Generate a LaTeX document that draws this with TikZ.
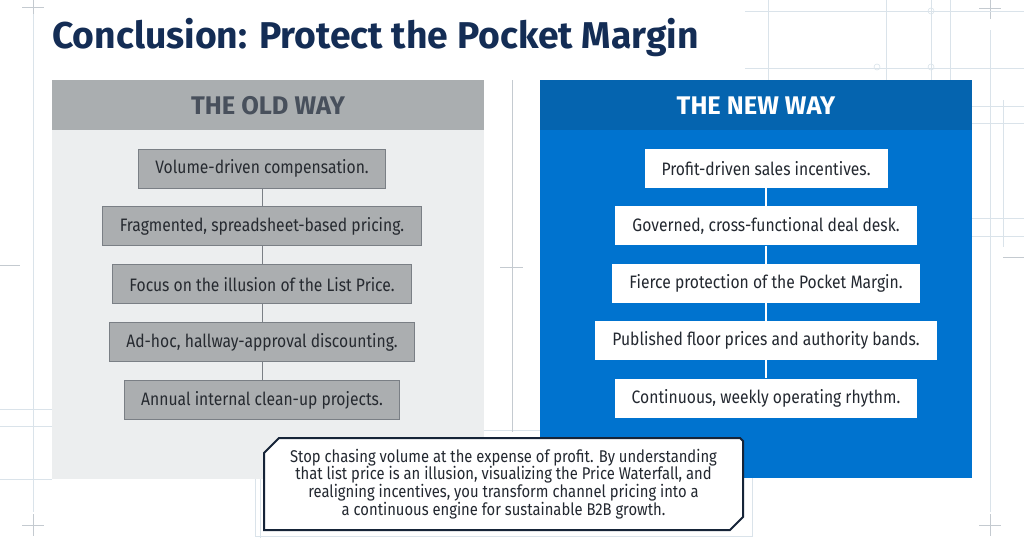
\documentclass[tikz,border=0pt]{standalone}
\usepackage{fontspec}
\setmainfont{Fira Sans}
\newfontfamily\narrowfont{Fira Sans}[FakeStretch=0.87]
\usetikzlibrary{positioning,calc}
\definecolor{TitleNavy}{RGB}{20,45,85}
\definecolor{OldHead}{RGB}{170,174,176}
\definecolor{OldBody}{RGB}{236,238,239}
\definecolor{OldBox}{RGB}{171,174,176}
\definecolor{OldBorder}{RGB}{122,127,133}
\definecolor{OldHeadText}{RGB}{72,80,92}
\definecolor{OldText}{RGB}{38,42,48}
\definecolor{NewHead}{RGB}{5,100,175}
\definecolor{NewBody}{RGB}{0,115,207}
\definecolor{NewText}{RGB}{35,40,48}
\definecolor{CalloutBorder}{RGB}{22,36,56}
\definecolor{GridLine}{RGB}{218,227,234}
\definecolor{Divider}{RGB}{196,202,208}

\begin{document}
\begin{tikzpicture}[
  x=1pt, y=-1pt,
  font=\narrowfont\fontsize{18}{21}\selectfont,
  headtext/.style={font=\bfseries\fontsize{25.5}{30}\selectfont},
  oldstep/.style={
    rectangle, draw=OldBorder, line width=0.9pt, fill=OldBox, text=OldText,
    minimum height=39pt, inner xsep=17pt, inner ysep=0pt
  },
  newstep/.style={
    rectangle, fill=white, text=NewText,
    minimum height=39pt, inner xsep=17pt, inner ysep=0pt
  },
  oldlink/.style={draw=OldBorder, line width=1pt},
  newlink/.style={draw=white, line width=1.2pt},
  blueprint/.style={draw=GridLine, line width=0.6pt}
]
\useasboundingbox (0,0) rectangle (1024,538);
\fill[white] (0,0) rectangle (1024,538);

% Faint blueprint lines in the background
\draw[blueprint] (33,14) -- (33,512);
\draw[blueprint, draw=Divider] (22,7) -- (44,7) (33,0) -- (33,14);
\draw[blueprint, draw=Divider] (22,525) -- (44,525) (33,514) -- (33,536);
\draw[blueprint, draw=Divider] (0,265) -- (20,265);
\draw[blueprint] (990,30) -- (990,512);
\draw[blueprint, draw=Divider] (979,8) -- (1001,8) (990,0) -- (990,19);
\draw[blueprint, draw=Divider] (979,525) -- (1001,525) (990,514) -- (990,536);
\draw[blueprint] (745,11) -- (1024,11) (745,68) -- (1024,68);
\draw[blueprint] (768,0) -- (768,80) (886,0) -- (886,80) (931,0) -- (931,80) (950,0) -- (950,80);
\draw[blueprint] (877,67) circle (3) (931,11) circle (3) (931,67) circle (3);
\draw[blueprint] (972,106) -- (1024,106) (972,123) -- (1024,123);
\draw[blueprint] (972,218) -- (1024,218) (972,236) -- (1024,236);
\draw[blueprint] (1003,100) -- (1003,247);
\draw[blueprint, draw=Divider] (1003,257) -- (1024,257);
\draw[blueprint] (0,409) -- (52,409) (0,426) -- (52,426) (0,479) -- (52,479);
\draw[blueprint] (255,430) rectangle (752,536);
\draw[blueprint] (260,434) -- (260,538) (250,434) -- (275,434);

% Central divider
\draw[draw=Divider, line width=0.8pt] (512,80) -- (512,432);
\draw[draw=Divider, line width=0.8pt] (500,267) -- (523,267);

% The old way
\fill[OldBody] (52,80) rectangle (484,479);
\fill[OldHead] (52,80) rectangle (484,130);
\node[headtext, text=OldHeadText] (oldHead) at (268,106) {THE OLD WAY};

\node[oldstep] (old1) at (262,168.5) {Volume-driven compensation.};
\node[oldstep, below=18pt of old1] (old2) {Fragmented, spreadsheet-based pricing.};
\node[oldstep, below=18pt of old2] (old3) {Focus on the illusion of the List Price.};
\node[oldstep, below=18pt of old3] (old4) {Ad-hoc, hallway-approval discounting.};
\node[oldstep, below=18pt of old4] (old5) {Annual internal clean-up projects.};

\draw[oldlink] (old1) -- (old2);
\draw[oldlink] (old2) -- (old3);
\draw[oldlink] (old3) -- (old4);
\draw[oldlink] (old4) -- (old5);

% The new way
\fill[NewBody] (540,80) rectangle (972,478);
\fill[NewHead] (540,80) rectangle (972,130);
\node[headtext, text=white] (newHead) at (756,106) {THE NEW WAY};

\node[newstep] (new1) at (766,168.5) {Profit-driven sales incentives.};
\node[newstep, below=18pt of new1] (new2) {Governed, cross-functional deal desk.};
\node[newstep, below=18pt of new2] (new3) {Fierce protection of the Pocket Margin.};
\node[newstep, below=18pt of new3] (new4) {Published floor prices and authority bands.};
\node[newstep, below=18pt of new4] (new5) {Continuous, weekly operating rhythm.};

\draw[newlink] (new1) -- (new2);
\draw[newlink] (new2) -- (new3);
\draw[newlink] (new3) -- (new4);
\draw[newlink] (new4) -- (new5);

% Title
\node[anchor=base west, text=TitleNavy, font=\bfseries\fontsize{37.3}{44}\selectfont, inner sep=0pt]
  (title) at (52,48) {Conclusion: Protect the Pocket Margin};

% Closing callout
\coordinate (sumNW) at (264,438);
\coordinate (sumSE) at (743,530);
\draw[draw=CalloutBorder, line width=2pt, fill=white, line join=miter]
  ($(sumNW)+(0,15)$) -- ($(sumNW)+(15,0)$) -- ($(sumSE |- sumNW)+(-3,0)$)
  -- ($(sumSE |- sumNW)+(0,3)$) -- ($(sumSE)+(0,-13)$) -- ($(sumSE)+(-13,0)$)
  -- (sumNW |- sumSE) -- cycle;
\node[align=center, text=NewText, font=\narrowfont\fontsize{17}{16.8}\selectfont]
  (summary) at ($(sumNW)!0.5!(sumSE)$)
  {Stop chasing volume at the expense of profit. By understanding\\
   that list price is an illusion, visualizing the Price Waterfall, and\\
   realigning incentives, you transform channel pricing into a\\
   a continuous engine for sustainable B2B growth.};

\end{tikzpicture}
\end{document}
